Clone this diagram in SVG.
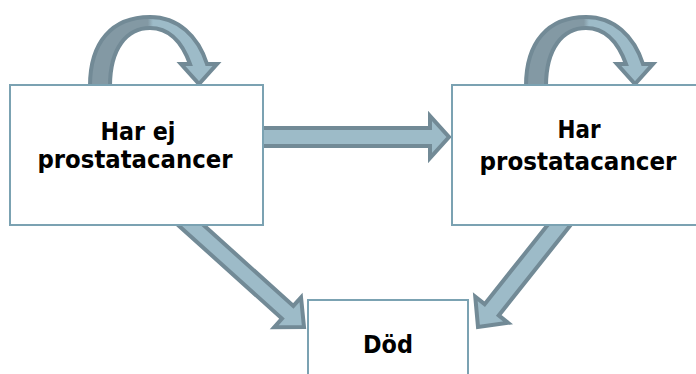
<svg xmlns="http://www.w3.org/2000/svg" width="696" height="374" viewBox="0 0 696 374">
<defs>
<linearGradient id="curveFill" x1="88" y1="0" x2="218" y2="0" gradientUnits="userSpaceOnUse">
<stop offset="0" stop-color="#8399a4"/>
<stop offset="0.46" stop-color="#8399a4"/>
<stop offset="0.5" stop-color="#9dbbc8"/>
<stop offset="1" stop-color="#9dbbc8"/>
</linearGradient>
</defs>
<style>
.box{fill:#ffffff;stroke:#7ba2b2;stroke-width:2}
.arrow{fill:#9dbbc8;stroke:#728a96;stroke-width:4;stroke-linejoin:miter}
.curve{fill:url(#curveFill);stroke:#728a96;stroke-width:4;stroke-linejoin:miter}
.lbl{font-family:"DejaVu Sans","Liberation Sans",sans-serif;font-weight:bold;font-size:24px;fill:#000000;text-anchor:middle}
</style>
<g id="connectors">
<path id="self-left" class="curve" d="M 90 86 C 90 42, 112 17, 150 17 C 178 17, 198 36, 207 64 L 217 64 L 199 84 L 181 64 L 190 64 C 182 42, 170 28, 150 28 C 127 28, 110 48, 110 86 Z"/>
<path id="self-right" class="curve" transform="translate(436,0)" d="M 90 86 C 90 42, 112 17, 150 17 C 178 17, 198 36, 207 64 L 217 64 L 199 84 L 181 64 L 190 64 C 182 42, 170 28, 150 28 C 127 28, 110 48, 110 86 Z"/>
<path id="no-to-yes" class="arrow" d="M 262 128 L 430 128 L 430 116 L 449 137 L 430 158 L 430 146 L 262 146 Z"/>
<path id="no-to-dead" class="arrow" transform="translate(304,327) rotate(42)" d="M -200 -8.5 L -22 -8.5 L -22 -20 L 0 0 L -22 20 L -22 8.5 L -200 8.5 Z"/>
<path id="yes-to-dead" class="arrow" transform="translate(478,327) rotate(128.5)" d="M -200 -9 L -22 -9 L -22 -21 L 0 0 L -22 21 L -22 9 L -200 9 Z"/>
</g>
<g id="node-no">
<rect class="box" x="10" y="85" width="253" height="140"/>
<text class="lbl" x="138" y="140" textLength="75" lengthAdjust="spacingAndGlyphs">Har ej</text>
<text class="lbl" x="135" y="168" textLength="195" lengthAdjust="spacingAndGlyphs">prostatacancer</text>
</g>
<g id="node-yes">
<rect class="box" x="452" y="85" width="253" height="140"/>
<text class="lbl" x="579" y="138" textLength="43" lengthAdjust="spacingAndGlyphs">Har</text>
<text class="lbl" x="578" y="170" textLength="197" lengthAdjust="spacingAndGlyphs">prostatacancer</text>
</g>
<g id="node-dead">
<rect class="box" x="308" y="300" width="160" height="90"/>
<text class="lbl" x="388" y="353" textLength="50" lengthAdjust="spacingAndGlyphs">Död</text>
</g>
</svg>
